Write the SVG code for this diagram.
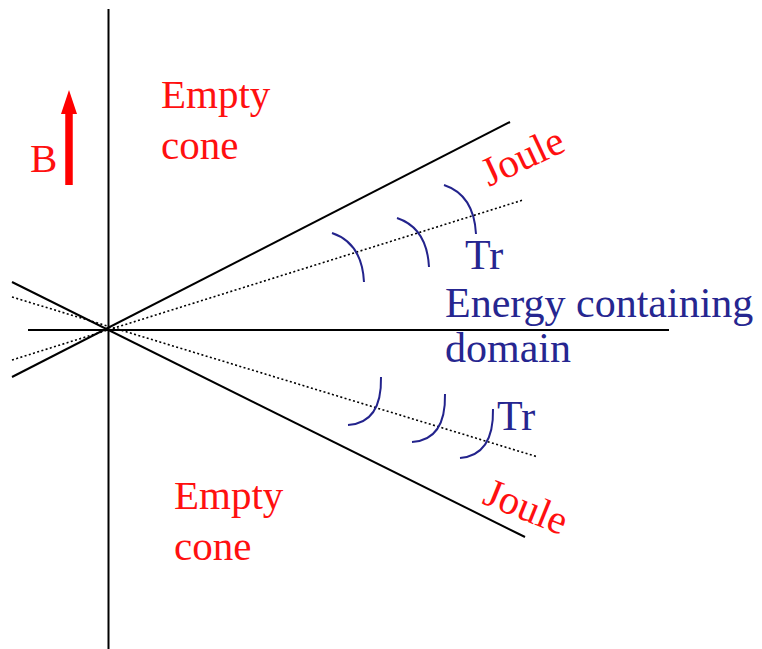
<svg xmlns="http://www.w3.org/2000/svg" width="762" height="649" viewBox="0 0 762 649">
<style>
.ax{stroke:#000;stroke-width:2;fill:none}
.dot{stroke:#000;stroke-width:1.6;stroke-dasharray:2,2.4;fill:none}
.arc{stroke:#23238c;stroke-width:2;fill:none}
.red{fill:#ff1010;font-family:"Liberation Serif","Times New Roman","DejaVu Serif",serif;font-size:41px}
.blue{fill:#262690;font-family:"Liberation Serif","Times New Roman","DejaVu Serif",serif;font-size:42px}
</style>
<rect width="762" height="649" fill="#fff"/>
<g id="connectors">
<line class="ax" x1="108.5" y1="9" x2="108.5" y2="649"/>
<line class="ax" x1="28" y1="330" x2="669" y2="330"/>
<line class="ax" x1="12" y1="377" x2="510" y2="122"/>
<line class="ax" x1="12" y1="282" x2="525" y2="537"/>
<line class="dot" x1="12" y1="360" x2="523" y2="200"/>
<line class="dot" x1="12" y1="297" x2="538" y2="457"/>
</g>
<g id="arcs-upper">
<path class="arc" d="M332,233 Q362,243 364,282"/>
<path class="arc" d="M397,218 Q427,228 429,267"/>
<path class="arc" d="M444,185 Q474,195 476,234"/>
</g>
<g id="arcs-lower">
<path class="arc" d="M381,377 Q382,423 348,425"/>
<path class="arc" d="M445,394 Q446,440 412,442"/>
<path class="arc" d="M493,409 Q494,455 460,458"/>
</g>
<g id="B-arrow">
<line x1="69" y1="185" x2="69" y2="110" stroke="#ff0000" stroke-width="7.5"/>
<polygon points="69,90 61,114 77,114" fill="#ff0000"/>
<text class="red" x="30" y="172">B</text>
</g>
<g id="empty-cone-top">
<text class="red" x="161" y="108">Empty</text>
<text class="red" x="161" y="159">cone</text>
</g>
<g id="empty-cone-bottom">
<text class="red" x="174" y="509">Empty</text>
<text class="red" x="174" y="560">cone</text>
</g>
<g id="joule-top">
<text class="red" transform="translate(489,187) rotate(-25)">Joule</text>
</g>
<g id="joule-bottom">
<text class="red" transform="translate(481,503) rotate(22)">Joule</text>
</g>
<g id="tr-top"><text class="blue" x="465" y="269">Tr</text></g>
<g id="tr-bottom"><text class="blue" x="497" y="430">Tr</text></g>
<g id="energy-domain">
<text class="blue" x="445" y="317">Energy containing</text>
<text class="blue" x="445" y="362">domain</text>
</g>
</svg>
